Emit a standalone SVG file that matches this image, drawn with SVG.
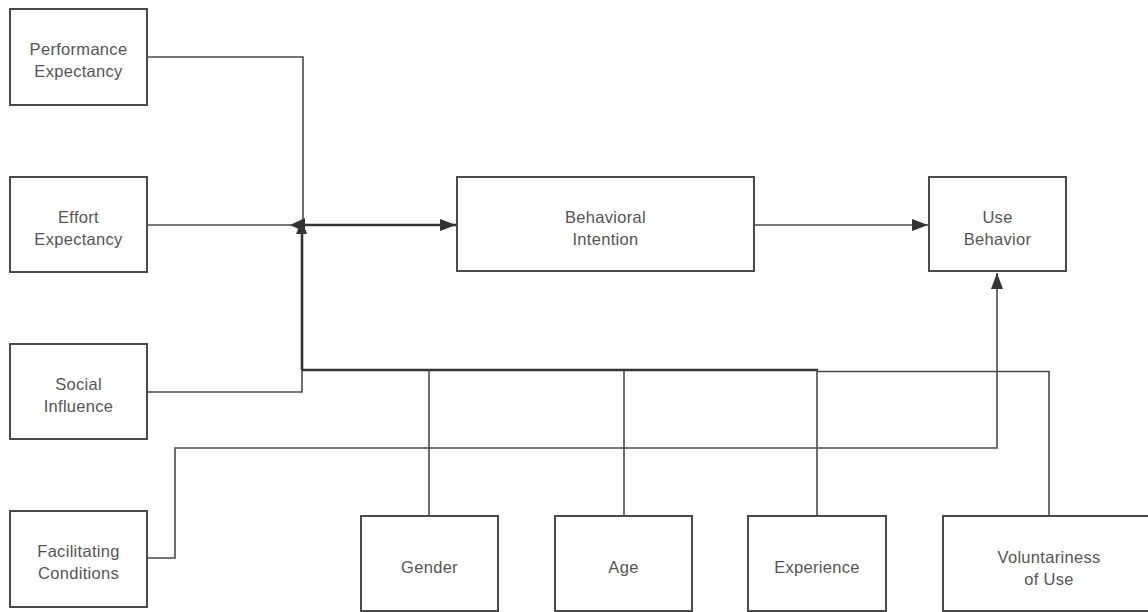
<svg xmlns="http://www.w3.org/2000/svg" width="1148" height="612" viewBox="0 0 1148 612">
<style>
.box{fill:#fff;stroke:#4a4a4a;stroke-width:2}
.t{font-family:"Liberation Sans",Arial,sans-serif;font-size:16.5px;letter-spacing:0.3px;fill:#555;text-anchor:middle}
.ln{fill:none;stroke:#4a4a4a;stroke-width:1.6}
.thk{fill:none;stroke:#333;stroke-width:2.6}
</style>
<defs>
<marker id="ah" viewBox="0 0 16 12" refX="16" refY="6" markerWidth="16" markerHeight="12" markerUnits="userSpaceOnUse" orient="auto"><path d="M0,0 L16,6 L0,12 z" fill="#333"/></marker>
</defs>
<rect width="1148" height="612" fill="#fff"/>
<g id="connectors">
<polyline class="ln" points="147,57 303,57 303,225"/>
<line class="ln" x1="147" y1="225" x2="302" y2="225"/>
<polyline class="ln" points="147,392 302,392 302,370"/>
<line class="thk" x1="302" y1="370" x2="302" y2="233"/>
<polygon points="290,225 305,218 305,232" fill="#333"/>
<polygon points="296,234 302,220 307,234" fill="#333"/>
<line class="thk" x1="302" y1="225" x2="456" y2="225" marker-end="url(#ah)"/>
<line class="ln" x1="754" y1="225" x2="928" y2="225" marker-end="url(#ah)"/>
<polyline class="thk" points="302,370 818,370"/>
<line class="ln" x1="429" y1="370" x2="429" y2="516"/>
<line class="ln" x1="624" y1="370" x2="624" y2="516"/>
<line class="ln" x1="817" y1="370" x2="817" y2="516"/>
<polyline class="ln" points="817,371.5 1049,371.5 1049,516"/>
<polyline class="ln" points="147,558 175,558 175,448 997,448 997,273" marker-end="url(#ah)"/>
</g>
<g id="performance"><rect class="box" x="10" y="9" width="137" height="96"/><text class="t" x="78.5" y="55">Performance</text><text class="t" x="78.5" y="77">Expectancy</text></g>
<g id="effort"><rect class="box" x="10" y="177" width="137" height="95"/><text class="t" x="78.5" y="223">Effort</text><text class="t" x="78.5" y="245">Expectancy</text></g>
<g id="social"><rect class="box" x="10" y="344" width="137" height="95"/><text class="t" x="78.5" y="390">Social</text><text class="t" x="78.5" y="412">Influence</text></g>
<g id="facilitating"><rect class="box" x="10" y="511" width="137" height="96"/><text class="t" x="78.5" y="557">Facilitating</text><text class="t" x="78.5" y="579">Conditions</text></g>
<g id="intention"><rect class="box" x="457" y="177" width="297" height="94"/><text class="t" x="605.5" y="223">Behavioral</text><text class="t" x="605.5" y="245">Intention</text></g>
<g id="use"><rect class="box" x="929" y="177" width="137" height="94"/><text class="t" x="997.5" y="223">Use</text><text class="t" x="997.5" y="245">Behavior</text></g>
<g id="gender"><rect class="box" x="361" y="516" width="137" height="95"/><text class="t" x="429.5" y="573">Gender</text></g>
<g id="age"><rect class="box" x="555" y="516" width="137" height="95"/><text class="t" x="623.5" y="573">Age</text></g>
<g id="experience"><rect class="box" x="748" y="516" width="138" height="95"/><text class="t" x="817" y="573">Experience</text></g>
<g id="voluntariness"><rect class="box" x="943" y="516" width="215" height="95"/><text class="t" x="1049" y="563">Voluntariness</text><text class="t" x="1049" y="585">of Use</text></g>
</svg>
